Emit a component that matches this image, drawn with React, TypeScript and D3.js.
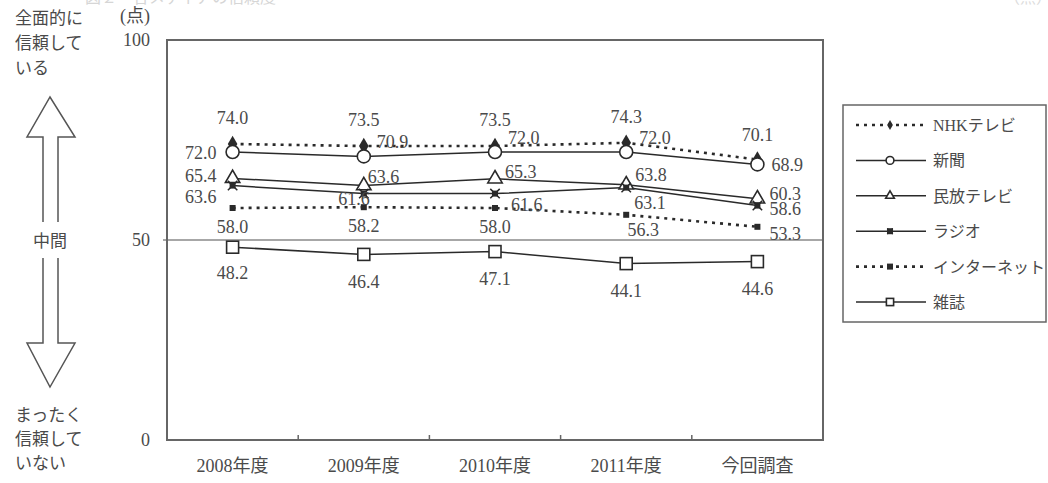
import React from 'react';
import * as d3 from 'd3';

// chart data
const categories = ['2008年度', '2009年度', '2010年度', '2011年度', '今回調査'];
const seriesNames = ['NHKテレビ', '新聞', '民放テレビ', 'ラジオ', 'インターネット', '雑誌'];
const nhk = [74.0, 73.5, 73.5, 74.3, 70.1];
const shinbun = [72.0, 70.9, 72.0, 72.0, 68.9];
const minpo = [65.4, 63.6, 65.3, 63.8, 60.3];
const radio = [63.6, 61.6, 61.6, 63.1, 58.6];
const internet = [58.0, 58.2, 58.0, 56.3, 53.3];
const zasshi = [48.2, 46.4, 47.1, 44.1, 44.6];
const yTicks = [0, 50, 100];

const FONT = "'Liberation Serif', 'Noto Sans CJK JP', serif";
const TXT = '#4a4a4a';
const INK = '#2a2a2a';

type Mark = 'diamond' | 'circle' | 'triangle' | 'radio' | 'dot' | 'square';
type Place = [string, number, number]; // anchor, dx, dy(center)

const seriesValues = [nhk, shinbun, minpo, radio, internet, zasshi];
const dashed = [true, false, false, false, true, false];
const marks: Mark[] = ['diamond', 'circle', 'triangle', 'radio', 'dot', 'square'];

// where each value label sits relative to its point
const labelPlace: Place[][] = [
  [['middle', 0, -26], ['middle', 0, -26], ['middle', 0, -26], ['middle', 0, -26], ['middle', 0, -25]],
  [['end', -16, 1], ['start', 13, -14], ['start', 13, -14], ['start', 13, -14], ['start', 14, 1]],
  [['end', -16, -2], ['start', 4, -9], ['start', 10, -7], ['start', 9, -10], ['start', 12, -5]],
  [['end', -16, 11], ['end', 6, 5], ['start', 16, 11], ['start', 8, 15], ['start', 12, 3]],
  [['middle', 0, 19], ['middle', 0, 19], ['middle', 0, 19], ['middle', 17, 15], ['start', 12, 7]],
  [['middle', 0, 26], ['middle', 0, 28], ['middle', 0, 27], ['middle', 0, 27], ['middle', 0, 27]],
];

function Marker({ kind, x, y, small }: { kind: Mark; x: number; y: number; small?: boolean }) {
  const k = small ? 0.6 : 1;
  const sym = (t: d3.SymbolType, s: number) => d3.symbol(t, s * k * k)()!;
  switch (kind) {
    case 'diamond':
      return <path d={sym(d3.symbolDiamond, 80)} transform={`translate(${x},${y})`} fill={INK} />;
    case 'circle':
      return <circle cx={x} cy={y} r={6.5 * k} fill="#fff" stroke={INK} strokeWidth={1.6} />;
    case 'triangle':
      return <path d={sym(d3.symbolTriangle, 90)} transform={`translate(${x},${y})`} fill="#fff" stroke={INK} strokeWidth={1.6} />;
    case 'radio':
      return (
        <g transform={`translate(${x},${y})`}>
          <path d={d3.symbol(d3.symbolX, 60 * k * k)()!} stroke={INK} strokeWidth={1.5} />
          <rect x={-3} y={-3} width={6} height={6} fill={INK} />
        </g>
      );
    case 'dot':
      return <rect x={x - 3} y={y - 3} width={6} height={6} fill={INK} />;
    case 'square':
      return <rect x={x - 6 * k} y={y - 6 * k} width={12 * k} height={12 * k} fill="#fff" stroke={INK} strokeWidth={1.6} />;
  }
}

export default function App() {
  const width = 1048;
  const height = 483;
  const plot = { left: 167, right: 823, top: 40, bottom: 440 };

  const x = d3.scaleBand<string>().domain(categories).range([plot.left, plot.right]);
  const cx = (c: string) => x(c)! + x.bandwidth() / 2;
  const y = d3.scaleLinear().domain([0, 100]).range([plot.bottom, plot.top]);

  const line = d3.line<number>()
    .x((_, i) => cx(categories[i]))
    .y(d => y(d));

  const legend = { x: 843, y: 105, w: 203, h: 217 };
  const legendRow = d3.scalePoint<string>().domain(seriesNames).range([125, 302]);

  return (
    <svg width={width} height={height} style={{ position: 'absolute', left: 0, top: 0, background: '#fff' }}
      fontFamily={FONT}>
      {/* faint title remnants at the top edge */}
      <text x={85} y={3} fontSize={16} fill="#d6d6d6">図２　各メディアの信頼度</text>
      <text x={1004} y={3} fontSize={16} fill="#dcdcdc">（点）</text>

      {/* left-side scale annotation */}
      <g fill={TXT} fontSize={17}>
        <text x={15} y={24}>全面的に</text>
        <text x={15} y={49}>信頼して</text>
        <text x={15} y={74}>いる</text>
        <text x={50} y={247} textAnchor="middle">中間</text>
        <text x={15} y={421}>まったく</text>
        <text x={15} y={445}>信頼して</text>
        <text x={15} y={469}>いない</text>
        <text x={120} y={22} fontSize={18}>(点)</text>
      </g>
      <g fill="none" stroke="#555" strokeWidth={1.5}>
        <path d="M43,222 L43,137 L27,137 L50,97 L75,137 L58,137 L58,222" />
        <path d="M43,258 L43,343 L27,343 L50,387 L75,343 L58,343 L58,258" />
      </g>

      {/* y tick labels */}
      {yTicks.map(t => (
        <text key={t} x={150} y={y(t) + 6} textAnchor="end" fontSize={18} fill={TXT}>{t}</text>
      ))}

      {/* mid line at 50 */}
      <line x1={plot.left - 4} x2={plot.right} y1={y(50)} y2={y(50)} stroke="#8a8a8a" strokeWidth={1.5} />

      {/* plot frame */}
      <rect x={plot.left} y={plot.top} width={plot.right - plot.left} height={plot.bottom - plot.top}
        fill="none" stroke="#666" strokeWidth={2} />

      {/* x ticks between categories */}
      {categories.slice(1).map(c => (
        <line key={c} x1={x(c)!} x2={x(c)!} y1={plot.bottom} y2={plot.bottom - 5} stroke="#666" strokeWidth={1.5} />
      ))}
      {categories.map(c => (
        <text key={c} x={cx(c)} y={472} textAnchor="middle" fontSize={18} fill={TXT}>{c}</text>
      ))}

      {/* series lines */}
      {seriesValues.map((vals, si) => (
        <path key={si} d={line(vals)!} fill="none" stroke={INK}
          strokeWidth={dashed[si] ? 2.6 : 1.5}
          strokeDasharray={dashed[si] ? '3,5' : undefined} />
      ))}

      {/* markers */}
      {seriesValues.map((vals, si) =>
        vals.map((v, i) => <Marker key={`${si}-${i}`} kind={marks[si]} x={cx(categories[i])} y={y(v)} />)
      )}

      {/* value labels */}
      {seriesValues.map((vals, si) =>
        vals.map((v, i) => {
          const [anchor, dx, dy] = labelPlace[si][i];
          return (
            <text key={`l${si}-${i}`} x={cx(categories[i]) + dx} y={y(v) + dy + 6}
              textAnchor={anchor} fontSize={18} fill={TXT}>{v.toFixed(1)}</text>
          );
        })
      )}

      {/* legend */}
      <rect x={legend.x} y={legend.y} width={legend.w} height={legend.h} fill="#fff" stroke="#666" strokeWidth={1.5} />
      {seriesNames.map((name, si) => {
        const ly = legendRow(name)!;
        return (
          <g key={name}>
            <line x1={856} x2={926} y1={ly} y2={ly} stroke={INK}
              strokeWidth={dashed[si] ? 2.6 : 1.5} strokeDasharray={dashed[si] ? '3,5' : undefined} />
            <Marker kind={marks[si]} x={890} y={ly} small />
            <text x={933} y={ly + 6} fontSize={16} fill={TXT}>{name}</text>
          </g>
        );
      })}
    </svg>
  );
}
